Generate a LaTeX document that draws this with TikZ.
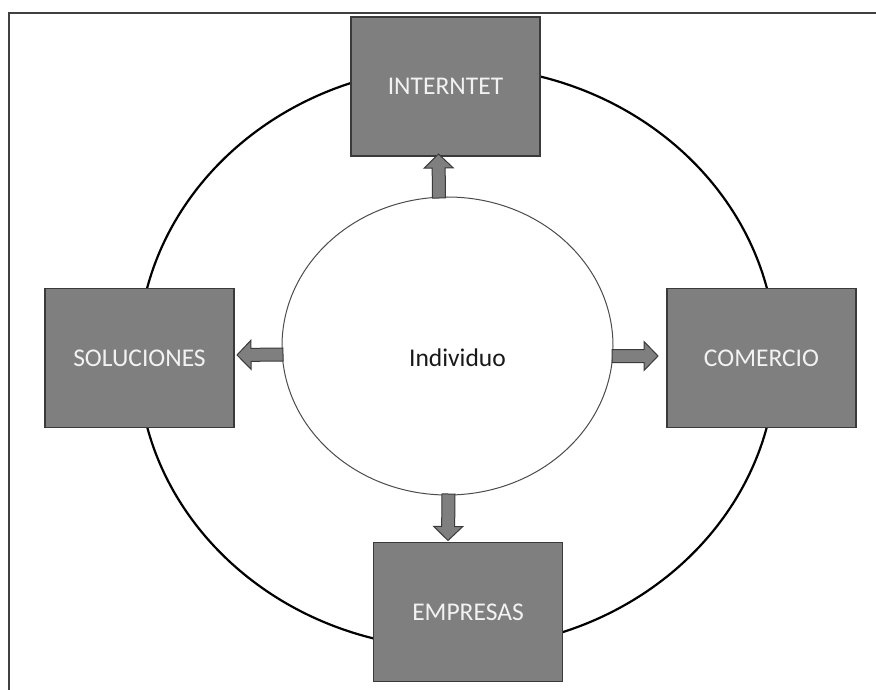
\documentclass[tikz,border=0pt]{standalone}
\usepackage{fontspec}
\setmainfont{Carlito}
\usetikzlibrary{shapes.geometric,calc}
\definecolor{boxgray}{HTML}{7F7F7F}
\definecolor{edgegray}{HTML}{3A3A3A}
\definecolor{txtlight}{HTML}{F2F2F2}
\newcommand{\arrbw}{6.5pt}
\newcommand{\arrhw}{14.5pt}
\newcommand{\arrhl}{14pt}
\begin{document}
\begin{tikzpicture}[x=1pt,y=-1pt,
  box/.style={draw=edgegray, line width=1.3pt, fill=boxgray, minimum width=189pt, minimum height=139pt,
    inner sep=0pt, outer sep=0pt, text=txtlight, font=\fontsize{25.5}{30}\selectfont},
  ring/.style={draw=black, line width=2.2pt, ellipse, minimum width=638pt, minimum height=582pt,
    inner sep=0pt, outer sep=0pt},
  core/.style={draw=black!70, line width=1pt, fill=white, ellipse, minimum width=331pt, minimum height=298pt,
    inner sep=0pt, outer sep=0pt},
  lbl/.style={text=black!90, font=\fontsize{25.5}{30}\selectfont, inner sep=0pt},
  frameline/.style={draw=black!75, line width=2pt},
  blockarrow/.style={draw=edgegray, fill=boxgray, line width=1pt, line join=miter,
    to path={
      ($(\tikztostart)!\arrbw!90:(\tikztotarget)$)
      -- ($($(\tikztotarget)!\arrhl!(\tikztostart)$)!\arrbw!-90:(\tikztostart)$)
      -- ($($(\tikztotarget)!\arrhl!(\tikztostart)$)!\arrhw!-90:(\tikztostart)$)
      -- (\tikztotarget)
      -- ($($(\tikztotarget)!\arrhl!(\tikztostart)$)!\arrhw!90:(\tikztostart)$)
      -- ($($(\tikztotarget)!\arrhl!(\tikztostart)$)!\arrbw!90:(\tikztostart)$)
      -- ($(\tikztostart)!\arrbw!-90:(\tikztotarget)$) -- cycle}}]
  \useasboundingbox (0,0) rectangle (876,690);
  % frame (top and left edges only)
  \coordinate (fbl) at (9,691);
  \coordinate (ftl) at (9,13.5);
  \coordinate (ftr) at (877,13.5);
  \draw[frameline] (fbl) -- (ftl) -- (ftr);
  % outer ring
  \node[ring] (ring) at (457,357.5) {};
  % boxes
  \node[box] (inet) at (445.5,86.5) {INTERNTET};
  \node[box] (sol) at (139.5,358) {SOLUCIONES};
  \node[box] (com) at (761.5,358) {COMERCIO};
  \node[box] (emp) at (468,612) {EMPRESAS};
  % centre ellipse
  \node[core] (ind) at (447.5,346) {};
  \node[lbl] (indl) at (457.5,358) {Individuo};
  % block arrows
  \draw[blockarrow] ($(ind.north)+(-8.5,1)$) to ($(inet.south)+(-7,-2)$);
  \draw[blockarrow] ($(ind.west)+(1,8.5)$) to ($(sol.east)+(3,-3)$);
  \draw[blockarrow] ($(ind.east)+(-1,10)$) to ($(com.west)+(-9,-2)$);
  \draw[blockarrow] ($(ind.south)+(1,-1)$) to ($(emp.north)+(-20,-2)$);
\end{tikzpicture}
\end{document}
